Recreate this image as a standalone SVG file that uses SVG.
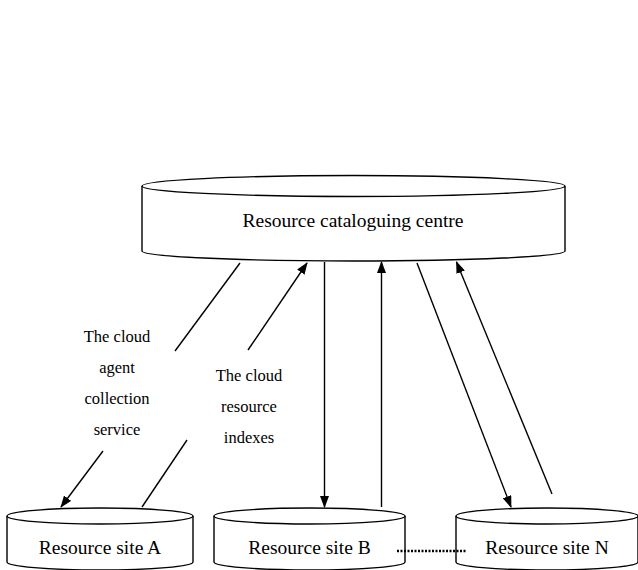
<svg xmlns="http://www.w3.org/2000/svg" width="638" height="570" viewBox="0 0 638 570">
<defs>
<marker id="arr" markerUnits="userSpaceOnUse" markerWidth="12" markerHeight="9" refX="11" refY="4.5" orient="auto">
<path d="M0,0 L12,4.5 L0,9 z" fill="#000"/>
</marker>
<style>
.cyl{fill:#fff;stroke:#000;stroke-width:1.4}
text{font-family:'Liberation Serif','Times New Roman',serif;fill:#000;text-anchor:middle}
.lbl{font-size:19.5px}
.sm{font-size:16.5px}
.ln{stroke:#000;stroke-width:1.4;fill:none}
.ar{marker-end:url(#arr)}
</style>
</defs>
<rect width="638" height="570" fill="#fff"/>
<g id="centre">
<path class="cyl" d="M142,186 L142,251 A211.5,10 0 0 0 565,251 L565,186"/>
<ellipse class="cyl" cx="353.5" cy="186" rx="211.5" ry="10.5"/>
<text class="lbl" x="353" y="227">Resource cataloguing centre</text>
</g>
<g id="siteA">
<path class="cyl" d="M7,516 L7,562 A93,8 0 0 0 193,562 L193,516"/>
<ellipse class="cyl" cx="100" cy="516" rx="93" ry="8"/>
<text class="lbl" x="100" y="554">Resource site A</text>
</g>
<g id="siteB">
<path class="cyl" d="M214,516 L214,562 A95.5,8 0 0 0 405,562 L405,516"/>
<ellipse class="cyl" cx="309.5" cy="516" rx="95.5" ry="8"/>
<text class="lbl" x="309.5" y="554">Resource site B</text>
</g>
<g id="siteN">
<path class="cyl" d="M456,516 L456,562 A91,8 0 0 0 638,562 L638,516"/>
<ellipse class="cyl" cx="547" cy="516" rx="91" ry="8"/>
<text class="lbl" x="547" y="554">Resource site N</text>
</g>
<g id="connectors">
<line class="ln" x1="240" y1="263" x2="175" y2="351"/>
<line class="ln ar" x1="103" y1="451" x2="61" y2="507"/>
<line class="ln" x1="142" y1="507" x2="187" y2="440"/>
<line class="ln ar" x1="248" y1="350" x2="307" y2="263"/>
<line class="ln ar" x1="324.5" y1="262" x2="324.5" y2="507"/>
<line class="ln ar" x1="381.5" y1="507" x2="381.5" y2="262"/>
<line class="ln ar" x1="417" y1="263" x2="511" y2="507"/>
<line class="ln ar" x1="552" y1="494" x2="456.5" y2="262"/>
<line x1="397" y1="551" x2="466" y2="551" stroke="#000" stroke-width="2.5" stroke-dasharray="2 1.5"/>
</g>
<g id="labels">
<text class="sm" x="117" y="342">The cloud</text>
<text class="sm" x="117" y="373">agent</text>
<text class="sm" x="117" y="404">collection</text>
<text class="sm" x="117" y="435">service</text>
<text class="sm" x="249" y="381">The cloud</text>
<text class="sm" x="249" y="412">resource</text>
<text class="sm" x="249" y="443">indexes</text>
</g>
</svg>
